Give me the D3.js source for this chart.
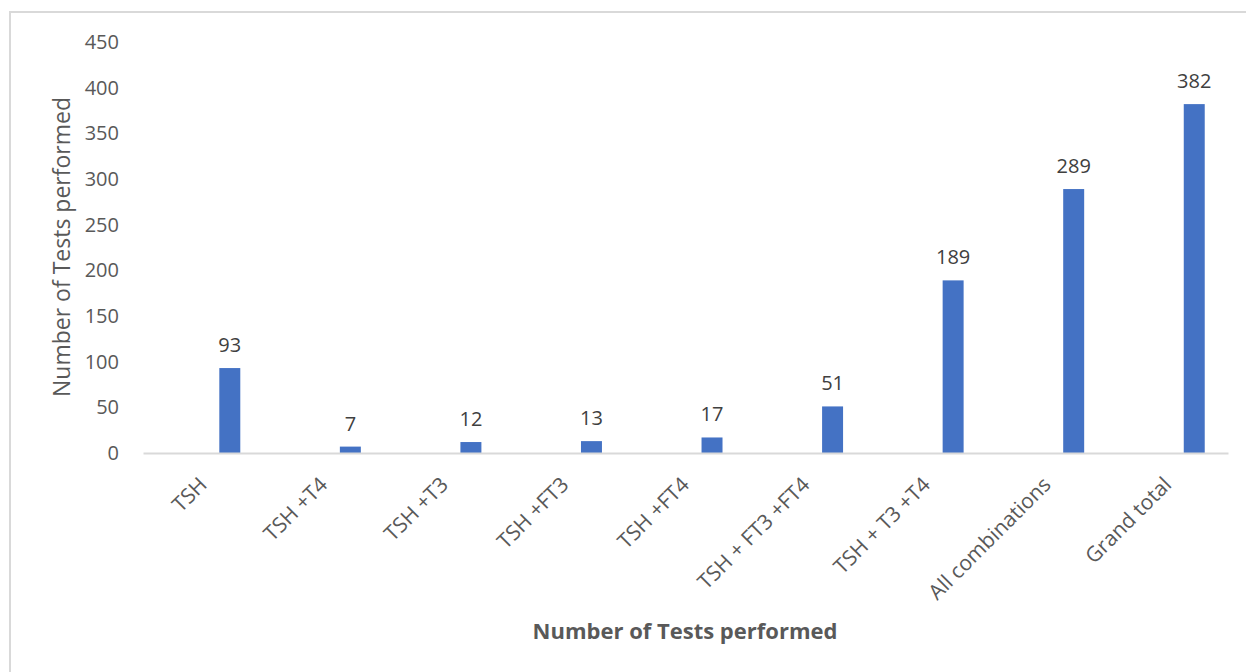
<!DOCTYPE html>
<html>
<head>
<meta charset="utf-8">
<script src="https://cdn.jsdelivr.net/npm/d3@7"></script>
<style>
    body { margin: 0; background: #fff; }
    #chart { width: 1246px; height: 672px; }
    text { font-family: "Open Sans", "DejaVu Sans", sans-serif; }
    .tickLabel { fill: #595959; font-size: 20px; }
    .catLabel { fill: #595959; font-size: 21px; }
    .barLabel { fill: #404040; font-size: 20px; }
    .axisTitle { fill: #595959; font-size: 23px; }
    .axisTitleBold { fill: #595959; font-size: 22px; font-weight: bold; }
</style>
</head>
<body>
<div id="chart"></div>
<script>
// data
let categories = ["TSH", "TSH +T4", "TSH +T3", "TSH +FT3", "TSH +FT4",
                  "TSH + FT3 +FT4", "TSH + T3 +T4", "All combinations", "Grand total"];
let testCounts = [93, 7, 12, 13, 17, 51, 189, 289, 382];
let yTicks = [0, 50, 100, 150, 200, 250, 300, 350, 400, 450];
let xTitle = "Number of Tests performed";
let yTitle = "Number of Tests performed";

/** Simple column chart, Excel look. */
class TestsChart {

    constructor() {
        this.width = 1246;
        this.height = 672;
        this.margin = {top: 42, right: 18, bottom: 219, left: 143};

        this.svg = d3.select("#chart").append("svg")
            .attr("width", this.width)
            .attr("height", this.height);

        // light frame round the chart area
        this.svg.append("rect")
            .attr("x", 10)
            .attr("y", 12)
            .attr("width", this.width + 20)
            .attr("height", this.height + 20)
            .attr("fill", "#fff")
            .attr("stroke", "#d9d9d9")
            .attr("stroke-width", 2);
    }

    update() {
        let plotW = this.width - this.margin.left - this.margin.right;
        let plotH = this.height - this.margin.top - this.margin.bottom;

        let xScale = d3.scaleBand()
            .domain(categories)
            .range([this.margin.left, this.margin.left + plotW]);

        let yScale = d3.scaleLinear()
            .domain([0, 450])
            .range([this.margin.top + plotH, this.margin.top]);

        let bw = xScale.bandwidth();
        let barW = bw * 0.174;
        // bars sit right of the band centre (empty first series in the source)
        let barCenter = d => xScale(d.cat) + bw * 0.5 + bw * 0.22;

        let data = categories.map((c, i) => ({cat: c, value: testCounts[i]}));

        // y tick labels only, no gridlines
        let yAxis = d3.axisLeft(yScale).tickValues(yTicks).tickSize(0).tickPadding(0);
        let yG = this.svg.append("g")
            .attr("transform", "translate(119,0)")
            .call(yAxis);
        yG.select(".domain").remove();
        yG.selectAll("text")
            .attr("class", "tickLabel")
            .attr("font-family", null)
            .attr("font-size", null)
            .attr("fill", null);

        // bars
        this.svg.selectAll(".bar").data(data).enter().append("rect")
            .attr("class", "bar")
            .attr("x", d => barCenter(d) - barW / 2)
            .attr("y", d => yScale(d.value))
            .attr("width", barW)
            .attr("height", d => yScale(0) - yScale(d.value))
            .attr("fill", "#4472c4");

        // baseline
        let xAxis = d3.axisBottom(xScale).tickSize(0).tickFormat("");
        let xG = this.svg.append("g")
            .attr("transform", "translate(0," + yScale(0) + ")")
            .call(xAxis);
        xG.select(".domain")
            .attr("stroke", "#d9d9d9")
            .attr("stroke-width", 2);

        // value labels
        this.svg.selectAll(".barLabel").data(data).enter().append("text")
            .attr("class", "barLabel")
            .attr("x", d => barCenter(d))
            .attr("y", d => yScale(d.value) - 16)
            .attr("text-anchor", "middle")
            .text(d => d.value);

        // category labels, rotated
        this.svg.selectAll(".catLabel").data(data).enter().append("text")
            .attr("class", "catLabel")
            .attr("text-anchor", "end")
            .attr("transform", d => "translate(" + (xScale(d.cat) + bw / 2 + 5) + "," + (yScale(0) + 33) + ") rotate(-45)")
            .text(d => d.cat);

        // axis titles
        this.svg.append("text")
            .attr("class", "axisTitleBold")
            .attr("x", 685)
            .attr("y", 639)
            .attr("text-anchor", "middle")
            .text(xTitle);

        this.svg.append("text")
            .attr("class", "axisTitle")
            .attr("text-anchor", "middle")
            .attr("transform", "translate(70,247) rotate(-90)")
            .text(yTitle);
    }
}

let chart = new TestsChart();
chart.update();
</script>
</body>
</html>
